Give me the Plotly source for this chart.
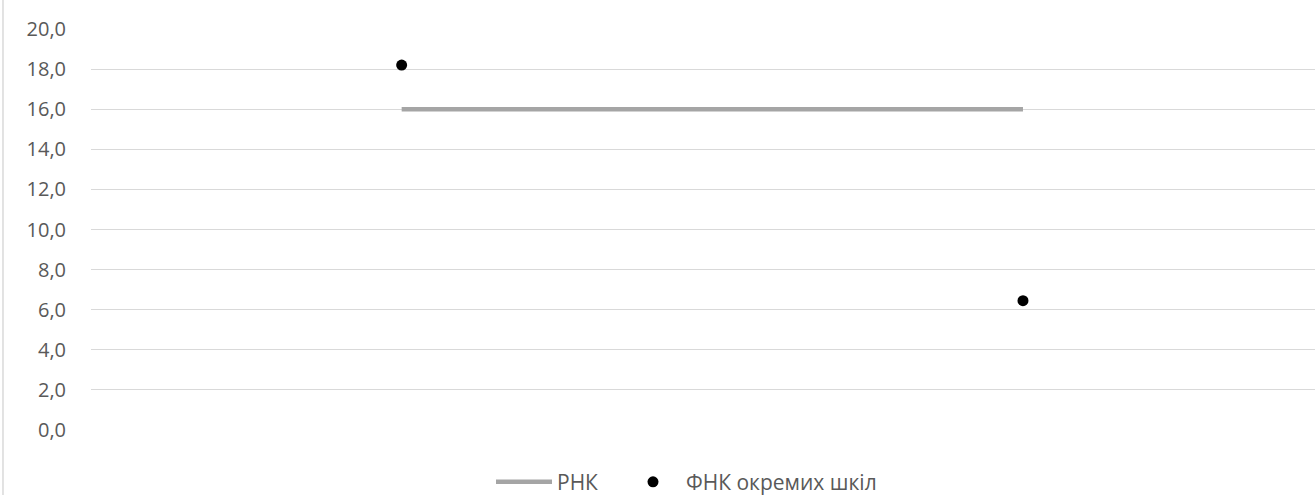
import plotly.graph_objects as go

categories = ["1", "2"]
rnk_values = [16.0, 16.0]
fnk_values = [18.2, 6.45]
y_ticks = [0, 2, 4, 6, 8, 10, 12, 14, 16, 18, 20]

FONT = "Open Sans"
TXT = "#595959"

fig = go.Figure()
fig.add_trace(go.Scatter(
    x=categories, y=rnk_values, mode="lines", name="РНК",
    line=dict(color="#a5a5a5", width=4.5),
    legendwidth=58,
))
fig.add_trace(go.Scatter(
    x=categories, y=fnk_values, mode="markers", name="ФНК окремих шкіл",
    marker=dict(color="#000000", size=11),
))

fig.update_layout(
    width=1315, height=495,
    margin=dict(l=91, r=0, t=29, b=65, autoexpand=False),
    paper_bgcolor="white", plot_bgcolor="white",
    separators=", ",
    font=dict(family=FONT, size=20, color=TXT),
    showlegend=True,
    legend=dict(
        orientation="h", x=(491 - 91) / 1224, xanchor="left",
        y=-0.13, yanchor="middle",
        font=dict(family=FONT, size=21, color=TXT),
        itemwidth=56,
    ),
    shapes=[dict(type="line", xref="paper", yref="paper",
                 x0=-0.0719, x1=-0.0719, y0=-1, y1=2,
                 line=dict(color="#d9d9d9", width=1.5))],
)
fig.update_xaxes(
    type="category", range=[-0.5, 1.47], showticklabels=False,
    showgrid=False, zeroline=False, showline=False,
)
fig.update_yaxes(
    range=[0, 20], tickvals=y_ticks, tickformat=".1f",
    showgrid=True, gridcolor="#d9d9d9", gridwidth=1.3,
    zeroline=False, showline=False, ticks="", ticklabelstandoff=24,
    tickfont=dict(family=FONT, size=20, color=TXT),
)

fig.write_html(
    "out.html",
    config={"displayModeBar": False},
    post_script="document.body.style.margin='0';document.body.style.overflow='hidden';",
)
